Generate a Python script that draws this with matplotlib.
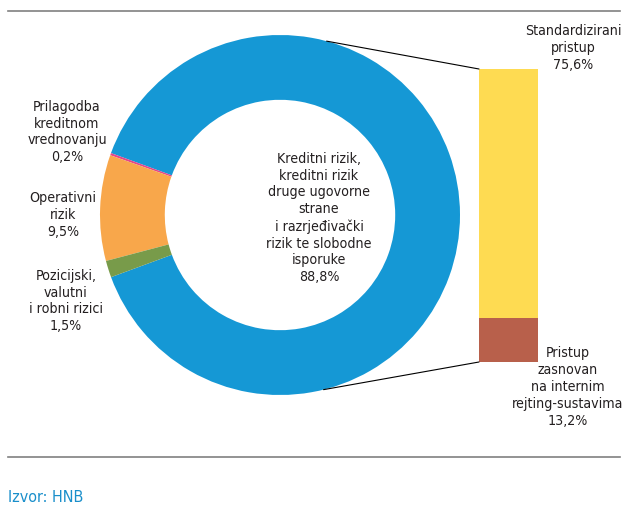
import matplotlib
matplotlib.use("Agg")
import matplotlib.pyplot as plt
from matplotlib.lines import Line2D
from matplotlib.patches import ConnectionPatch
import numpy as np

# Data
risk_labels = ["Kreditni rizik,\nkreditni rizik\ndruge ugovorne\nstrane\ni razrjeđivački\nrizik te slobodne\nisporuke",
               "Prilagodba\nkreditnom\nvrednovanju",
               "Operativni\nrizik",
               "Pozicijski,\nvalutni\ni robni rizici"]
risk_shares = [88.8, 0.2, 9.5, 1.5]
risk_colors = ["#1598d5", "#e2478a", "#f8a74b", "#789b4a"]

approach_labels = ["Standardizirani\npristup", "Pristup\nzasnovan\nna internim\nrejting-sustavima"]
approach_shares = [75.6, 13.2]
approach_colors = ["#fedb52", "#b8604b"]

source = "Izvor: HNB"

W, H = 627, 509
TEXT = "#231f20"
FONT = ["DejaVu Sans"]


def fx(x):
    return x / W


def fy(y):
    return 1 - y / H


def fmt(v):
    return f"{v:.1f}".replace(".", ",") + "%"


def main():
    fig = plt.figure(figsize=(W / 100, H / 100), dpi=100)

    # donut
    ax = fig.add_axes([fx(100), fy(395), 360 / W, 360 / H])
    ax.pie(risk_shares, colors=risk_colors, startangle=200.2, counterclock=True,
           radius=1, wedgeprops=dict(width=0.36, linewidth=0))
    ax.set_xlim(-1, 1)
    ax.set_ylim(-1, 1)
    ax.set_aspect("equal")
    ax.axis("off")

    # stacked bar for the credit risk part
    bx = fig.add_axes([fx(479), fy(362), 59 / W, 293 / H])
    bottom = 0
    for val, col in zip(approach_shares[::-1], approach_colors[::-1]):
        bx.bar(0, val, bottom=bottom, width=1, color=col, linewidth=0)
        bottom += val
    bx.set_xlim(-0.5, 0.5)
    bx.set_ylim(0, sum(approach_shares))
    bx.axis("off")

    # connector lines
    a1, a2 = np.radians(75), np.radians(-76)
    for ang, yb in [(a1, sum(approach_shares)), (a2, 0)]:
        con = ConnectionPatch(xyA=(np.cos(ang), np.sin(ang)), coordsA=ax.transData,
                              xyB=(-0.5, yb), coordsB=bx.transData,
                              color="black", lw=0.8)
        fig.add_artist(con)

    # labels
    kw = dict(ha="center", va="center", fontsize=10.2, color=TEXT, family=FONT,
              stretch="condensed", linespacing=1.26)
    fig.text(fx(319), fy(218), risk_labels[0] + "\n" + fmt(risk_shares[0]), **kw)
    fig.text(fx(67), fy(132), risk_labels[1] + "\n" + fmt(risk_shares[1]), **kw)
    fig.text(fx(63), fy(215), risk_labels[2] + "\n" + fmt(risk_shares[2]), **kw)
    fig.text(fx(66), fy(301), risk_labels[3] + "\n" + fmt(risk_shares[3]), **kw)
    fig.text(fx(573), fy(48), approach_labels[0] + "\n" + fmt(approach_shares[0]), **kw)
    fig.text(fx(568), fy(387), approach_labels[1] + "\n" + fmt(approach_shares[1]), **kw)

    # rules and source
    for y in (11, 457):
        fig.add_artist(Line2D([fx(8), fx(620)], [fy(y), fy(y)], color="#808080", lw=1.2))
    fig.text(fx(8), fy(498), source, ha="left", va="center", fontsize=11.5,
             stretch="condensed", color="#1a8fcb", family=FONT)

    fig.savefig("out.png", dpi=100)


if __name__ == '__main__':
    main()
